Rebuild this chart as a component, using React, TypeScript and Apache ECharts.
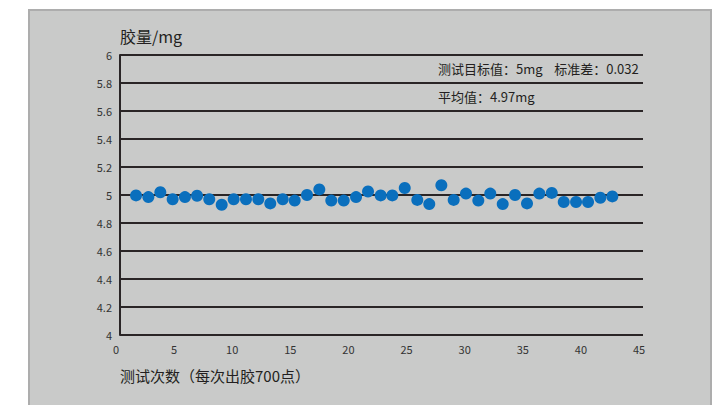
import React, { useEffect, useRef } from "react";
import * as echarts from "echarts";

const runX: number[] = [
  1.38, 2.44, 3.47, 4.53, 5.59, 6.63, 7.68, 8.75, 9.78, 10.84,
  11.9, 12.93, 14.0, 15.03, 16.09, 17.15, 18.18, 19.25, 20.31, 21.34,
  22.43, 23.43, 24.5, 25.58, 26.61, 27.65, 28.71, 29.77, 30.83, 31.86,
  32.93, 33.99, 35.02, 36.08, 37.15, 38.18, 39.24, 40.27, 41.33, 42.36,
];
const glueMg: number[] = [
  4.997, 4.985, 5.02, 4.97, 4.985, 4.995, 4.97, 4.93, 4.97, 4.97,
  4.97, 4.94, 4.97, 4.96, 5.0, 5.04, 4.96, 4.96, 4.985, 5.025,
  4.997, 4.997, 5.05, 4.965, 4.935, 5.07, 4.965, 5.01, 4.96, 5.01,
  4.935, 5.0, 4.94, 5.01, 5.015, 4.95, 4.95, 4.95, 4.98, 4.99,
];
const yTitle = "胶量/mg";
const xTitle = "测试次数（每次出胶700点）";
const note1 = "测试目标值：5mg    标准差：0.032";
const note2 = "平均值：4.97mg";

const FONT = "'Noto Sans CJK SC', 'Noto Sans', sans-serif";

export default function App() {
  const ref = useRef<HTMLDivElement>(null);
  useEffect(() => {
    if (!ref.current) return;
    const chart = echarts.init(ref.current, undefined, { renderer: "svg" });
    const data = runX.map((x, i) => [x, glueMg[i]]);
    chart.setOption({
      animation: false,
      backgroundColor: "#ffffff",
      textStyle: { fontFamily: FONT },
      graphic: [
        {
          type: "rect",
          z: -10,
          silent: true,
          shape: { x: 29, y: 10, width: 682, height: 400 },
          style: { fill: "#c9cac9", stroke: "#adadad", lineWidth: 2 },
        },
        {
          type: "text",
          left: 438,
          top: 62,
          style: { text: note1, fontSize: 13, fill: "#231f20", fontFamily: FONT },
        },
        {
          type: "text",
          left: 438,
          top: 90,
          style: { text: note2, fontSize: 13, fill: "#231f20", fontFamily: FONT },
        },
      ],
      grid: { left: 120, right: 83, top: 55, bottom: 70, containLabel: false },
      xAxis: {
        type: "value",
        min: 0,
        max: 45,
        interval: 5,
        name: xTitle,
        nameLocation: "start",
        nameGap: 0,
        nameTextStyle: {
          align: "left",
          verticalAlign: "top",
          fontSize: 15,
          color: "#231f20",
          padding: [33, 0, 0, 0],
          fontFamily: FONT,
        },
        axisLine: { show: false },
        axisTick: { show: false },
        splitLine: { show: false },
        axisLabel: {
          fontSize: 11,
          color: "#333",
          margin: 8,
          padding: [0, 8, 0, 0],
          fontFamily: FONT,
        },
      },
      yAxis: {
        type: "value",
        min: 4,
        max: 6,
        interval: 0.2,
        name: yTitle,
        nameLocation: "end",
        nameGap: 11,
        nameTextStyle: {
          align: "left",
          verticalAlign: "bottom",
          fontSize: 16,
          color: "#231f20",
          fontFamily: FONT,
        },
        axisLine: { show: true, lineStyle: { color: "#2a2526", width: 2 } },
        axisTick: { show: false },
        splitLine: { show: true, lineStyle: { color: "#2a2526", width: 2 } },
        axisLabel: {
          fontSize: 11,
          color: "#333",
          margin: 8,
          padding: [0, 0, 6, 0],
          formatter: (v: number) => String(Math.round(v * 10) / 10),
          fontFamily: FONT,
        },
      },
      series: [
        {
          type: "scatter",
          data,
          symbolSize: 12,
          itemStyle: { color: "#0a6fbd", opacity: 1 },
        },
      ],
    });
    return () => chart.dispose();
  }, []);
  return (
    <div
      ref={ref}
      style={{ position: "absolute", left: 0, top: 0, width: 726, height: 405 }}
    />
  );
}
